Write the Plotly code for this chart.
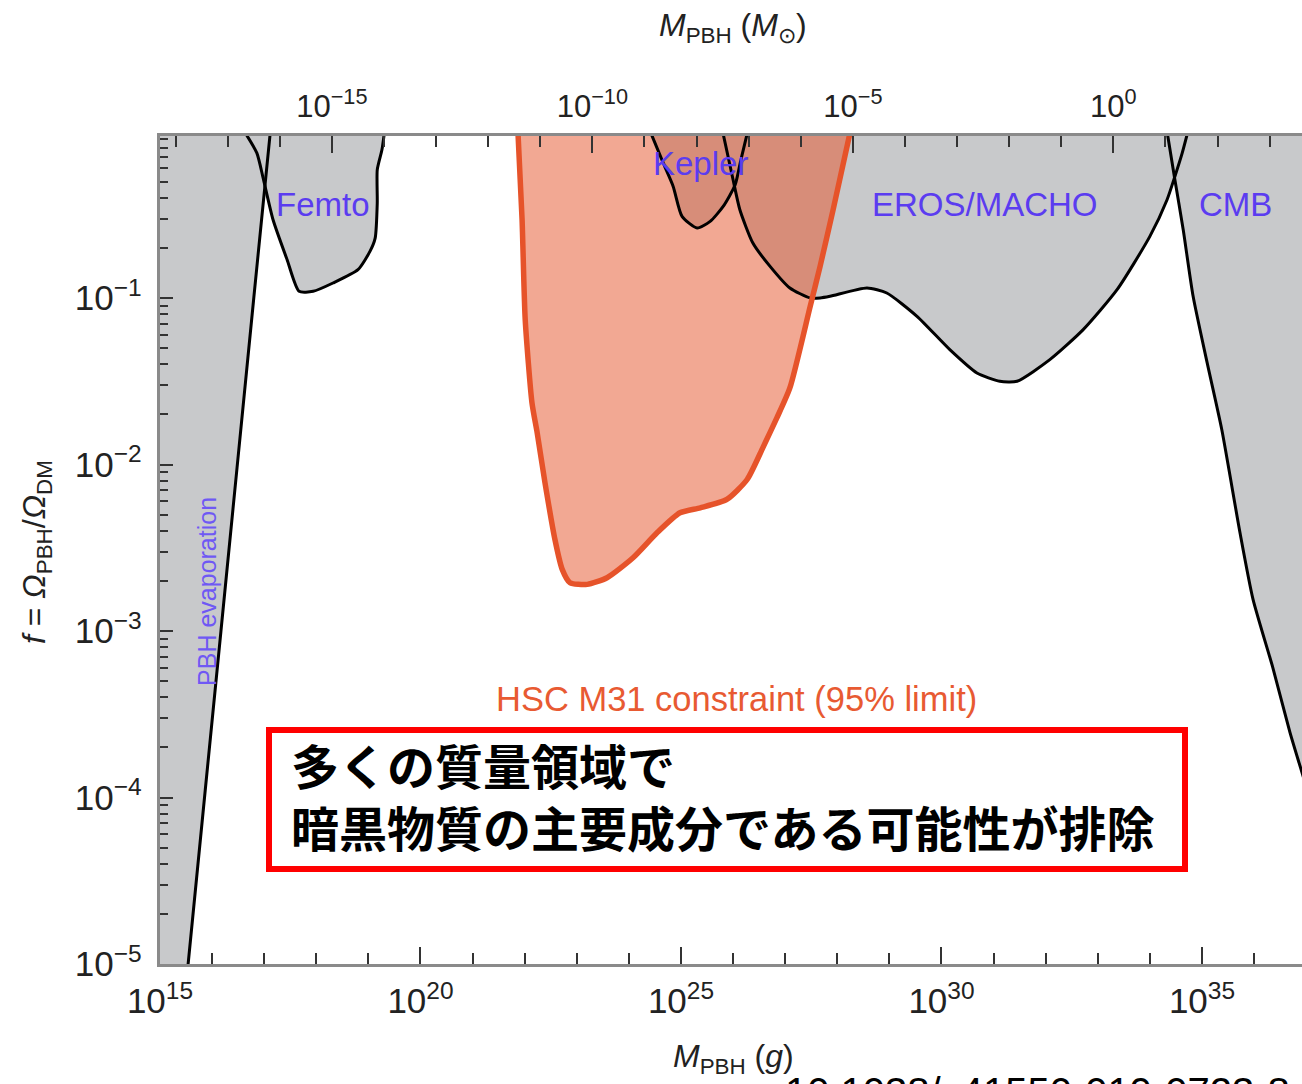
import numpy as np
import plotly.graph_objects as go

# ---------------- data (log10 of mass in g, log10 of f) ----------------
SUN_LOG_G = np.log10(1.989e33)

evap_logm = [15.48, 15.54, 16.17, 16.80, 17.15]
evap_logf = [-5.2, -5.0, -3.0, -1.0, 0.1]

femto_logm = [16.62, 16.86, 16.98, 17.17, 17.44, 17.67, 17.94, 18.32, 18.80, 19.03, 19.13, 19.17, 19.17, 19.26, 19.31]
femto_logf = [0.0, -0.13, -0.28, -0.53, -0.77, -0.96, -0.96, -0.91, -0.83, -0.72, -0.64, -0.43, -0.23, -0.11, 0.0]

kepler_logm = [24.41, 24.66, 24.85, 25.02, 25.31, 25.56, 25.81, 26.04, 26.15, 26.28]
kepler_logf = [0.0, -0.19, -0.33, -0.51, -0.58, -0.54, -0.45, -0.32, -0.17, 0.0]

eros_logm = [25.80, 26.00, 26.13, 26.38, 26.71, 27.09, 27.48, 27.67, 27.86, 28.57, 28.95, 29.53,
             30.16, 30.68, 31.12, 31.45, 32.08, 32.72, 33.37, 34.00, 34.33, 34.48, 34.62, 34.73]
eros_logf = [0.0, -0.29, -0.47, -0.67, -0.81, -0.94, -1.00, -1.00, -0.99, -0.94, -0.97, -1.11,
             -1.31, -1.45, -1.50, -1.50, -1.37, -1.19, -0.95, -0.63, -0.41, -0.27, -0.13, 0.0]

cmb_logm = [34.33, 34.48, 34.64, 34.83, 35.10, 35.38, 35.73, 35.98, 36.36, 36.69, 36.92, 37.10]
cmb_logf = [0.0, -0.29, -0.59, -0.99, -1.39, -1.79, -2.41, -2.81, -3.22, -3.61, -3.85, -4.04]

hsc_logm = [21.87, 21.95, 22.01, 22.14, 22.24, 22.39, 22.58, 22.72, 22.87, 23.20, 23.58, 24.08,
            24.54, 24.98, 25.37, 25.88, 26.27, 26.57, 26.84, 27.09, 27.48, 27.67, 27.92, 28.25]
hsc_logf = [0.0, -0.53, -1.13, -1.63, -1.81, -2.11, -2.45, -2.63, -2.71, -2.72, -2.68, -2.56,
            -2.41, -2.29, -2.26, -2.21, -2.09, -1.90, -1.72, -1.54, -1.05, -0.81, -0.47, 0.0]

X_RANGE = [15.0, 36.92]
Y_RANGE = [-5.0, -0.027]

top_tick_logs = [-15, -10, -5, 0]
top_tick_text = ["10<sup>−15</sup>", "10<sup>−10</sup>", "10<sup>−5</sup>", "10<sup>0</sup>"]

# ---------------- styling ----------------
W, H = 1302, 1084
ML, MR, MT, MB = 160, 0, 136, 120
PW, PH = W - ML - MR, H - MT - MB
GRAY = "#c8c9cb"
LABEL = "#5b3cf0"
ORANGE = "#e6532a"
FONT = "Liberation Sans, Arial, sans-serif"
SMOOTH = dict(shape="spline", smoothing=0.6)


def pxx(x):
    return (x - ML) / PW


def pxy(y):
    return (H - MB - y) / PH


def p10(a):
    return [10 ** v for v in a]


fig = go.Figure()

lo_x, hi_x = X_RANGE[0] - 0.5, X_RANGE[1] + 0.5
hi_y, lo_y = 0.5, Y_RANGE[0] - 0.5

# gray excluded regions
fig.add_trace(go.Scatter(x=p10([lo_x] + evap_logm + [lo_x]), y=p10([evap_logf[0]] + evap_logf + [hi_y]),
                         fill="toself", fillcolor=GRAY, line=dict(width=0), mode="lines", hoverinfo="skip"))
for mx, fy in [(femto_logm, femto_logf), (kepler_logm, kepler_logf), (eros_logm, eros_logf)]:
    fig.add_trace(go.Scatter(x=p10(mx), y=p10(fy), fill="toself", fillcolor=GRAY,
                             line=dict(width=0, **SMOOTH), mode="lines", hoverinfo="skip"))
fig.add_trace(go.Scatter(x=p10(cmb_logm + [hi_x, hi_x]), y=p10(cmb_logf + [lo_y, hi_y]),
                         fill="toself", fillcolor=GRAY, line=dict(width=0), mode="lines", hoverinfo="skip"))

# HSC fill (semi transparent)
fig.add_trace(go.Scatter(x=p10(hsc_logm), y=p10(hsc_logf), fill="toself", fillcolor="rgba(229,81,39,0.5)",
                         line=dict(width=0, **SMOOTH), mode="lines", hoverinfo="skip"))

# black boundary lines
for mx, fy in [(evap_logm, evap_logf), (femto_logm, femto_logf), (kepler_logm, kepler_logf),
               (eros_logm, eros_logf), (cmb_logm, cmb_logf)]:
    fig.add_trace(go.Scatter(x=p10(mx), y=p10(fy), mode="lines",
                             line=dict(color="black", width=3, **SMOOTH), hoverinfo="skip"))

# HSC outline
fig.add_trace(go.Scatter(x=p10(hsc_logm), y=p10(hsc_logf), mode="lines",
                         line=dict(color=ORANGE, width=5.5, **SMOOTH), hoverinfo="skip"))

# invisible trace for the top (solar mass) axis
fig.add_trace(go.Scatter(x=[10 ** (X_RANGE[0] - SUN_LOG_G), 10 ** (X_RANGE[1] - SUN_LOG_G)],
                         y=[10 ** Y_RANGE[0]] * 2, xaxis="x2", yaxis="y", mode="markers",
                         marker=dict(opacity=0), hoverinfo="skip"))

minor_common = dict(ticks="inside", tickcolor="#333", tickwidth=1.5, showgrid=False)
axis_common = dict(
    type="log", showgrid=False, zeroline=False, showline=True, linecolor="#8a8a8a", linewidth=2.5,
    ticks="inside", tickcolor="#333", tickwidth=1.5, exponentformat="power", showexponent="all",
    tickfont=dict(family=FONT, size=28, color="#222"),
)

fig.update_layout(
    width=W, height=H, margin=dict(l=ML, r=MR, t=MT, b=MB),
    plot_bgcolor="white", paper_bgcolor="white", showlegend=False,
    xaxis=dict(axis_common, range=X_RANGE, dtick=5, ticklen=17, ticklabelstandoff=6,
               minor=dict(minor_common, dtick=1, ticklen=11)),
    xaxis2=dict(axis_common, range=[X_RANGE[0] - SUN_LOG_G, X_RANGE[1] - SUN_LOG_G], overlaying="x",
                side="top", anchor="y", tickmode="array", tickvals=p10(top_tick_logs), ticktext=top_tick_text,
                ticklen=17, ticklabelstandoff=4, tickfont=dict(family=FONT, size=31, color="#222"),
                minor=dict(minor_common, tickmode="linear", tick0=0, dtick=1, ticklen=11)),
    yaxis=dict(axis_common, range=Y_RANGE, dtick=1, ticklen=13, ticklabelstandoff=10,
               minor=dict(minor_common, dtick="D1", ticklen=8)),
)

# region labels (annotation coords on log axes are log10 values)
labels = [
    ("Femto", 18.13, -0.44),
    ("Kepler", 25.38, -0.19),
    ("EROS/MACHO", 30.84, -0.44),
    ("CMB", 35.65, -0.44),
]
for t, x, y in labels:
    fig.add_annotation(x=x, y=y, xref="x", yref="y", text=t, showarrow=False,
                       xanchor="center", yanchor="middle",
                       font=dict(family=FONT, size=33, color=LABEL))
fig.add_annotation(x=15.90, y=-2.76, xref="x", yref="y", text="PBH evaporation", showarrow=False,
                   xanchor="center", yanchor="middle",
                   textangle=-90, font=dict(family=FONT, size=25, color="#6f58f4"))
fig.add_annotation(x=26.06, y=-3.41, xref="x", yref="y", text="HSC M31 constraint (95% limit)",
                   xanchor="center", yanchor="middle",
                   showarrow=False, font=dict(family=FONT, size=34.5, color="#e85a32"))

# axis titles
fig.add_annotation(x=pxx(733), y=pxy(27), xref="paper", yref="paper", showarrow=False,
                   xanchor="center", yanchor="middle",
                   text="<i>M</i><sub>PBH</sub> (<i>M</i><sub>⊙</sub>)",
                   font=dict(family=FONT, size=32, color="#222"))
fig.add_annotation(x=pxx(733), y=pxy(1058), xref="paper", yref="paper", showarrow=False,
                   xanchor="center", yanchor="middle",
                   text="<i>M</i><sub>PBH</sub> (<i>g</i>)",
                   font=dict(family=FONT, size=32, color="#222"))
fig.add_annotation(x=pxx(36), y=pxy(552), xref="paper", yref="paper", showarrow=False, textangle=-90,
                   xanchor="center", yanchor="middle",
                   text="<i>f</i> = <i>Ω</i><sub>PBH</sub>/<i>Ω</i><sub>DM</sub>",
                   font=dict(family=FONT, size=32, color="#222"))

# DOI text (cut off at bottom)
fig.add_annotation(x=pxx(783), y=pxy(1068), xref="paper", yref="paper", showarrow=False,
                   xanchor="left", yanchor="top", text="10.1038/s41550-019-0723-8",
                   font=dict(family=FONT, size=40, color="black"))

# red box with Japanese text
fig.add_shape(type="rect", xref="paper", yref="paper", x0=pxx(269), x1=pxx(1185), y0=pxy(869), y1=pxy(730),
              line=dict(color="#ff0000", width=6), fillcolor="white", layer="above")
fig.add_annotation(x=pxx(289), y=pxy(795), xref="paper", yref="paper", showarrow=False,
                   xanchor="left", yanchor="middle", align="left",
                   text="<b>多くの質量領域で</b><br><b>暗黒物質の主要成分である可能性が排除</b>",
                   font=dict(family="Noto Sans CJK JP", size=48, color="black"))

fig.write_html("out.html")
